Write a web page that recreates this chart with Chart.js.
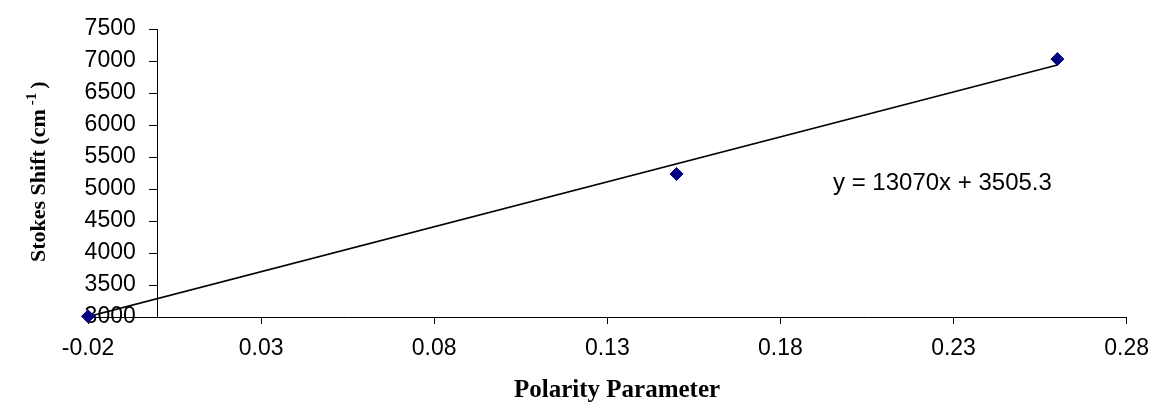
<!DOCTYPE html>
<html>
<head>
<meta charset="utf-8">
<script src="https://cdn.jsdelivr.net/npm/chart.js@4/dist/chart.umd.min.js"></script>
<style>
  html, body { margin: 0; padding: 0; background: #ffffff; }
  #vis { width: 1160px; height: 403px; position: relative; }
</style>
</head>
<body>
<div id="vis"><canvas id="myChart"></canvas></div>
<script>
// values
const polarity = [-0.02, 0.15, 0.26];
const stokesShift = [3010, 5235, 7030];
const trendX = [-0.02, 0.26];
const trendY = [3005, 6937];
const xTickValues = [-0.02, 0.03, 0.08, 0.13, 0.18, 0.23, 0.28];
const yMin = 3000;
const yMax = 7500;
const yStep = 500;
const equationText = 'y = 13070x + 3505.3';
const xTitle = 'Polarity Parameter';
const yTitle = 'Stokes Shift (cm';
const yTitleSup = '-1';

const SANS = '"Liberation Sans", Arial, sans-serif';
const SERIF = '"Liberation Serif", "Times New Roman", serif';

// titles and the trendline equation, drawn by hand (superscript)
const textPlugin = {
  id: 'textPlugin',
  afterDraw(chart) {
    const ctx = chart.ctx;
    ctx.save();
    ctx.fillStyle = '#000000';

    // equation
    ctx.font = '24px ' + SANS;
    ctx.textAlign = 'left';
    ctx.textBaseline = 'alphabetic';
    ctx.fillText(equationText, 833, 190);

    // x title
    ctx.font = 'bold 25px ' + SERIF;
    ctx.textAlign = 'center';
    ctx.fillText(xTitle, 617, 397);

    // y title, rotated
    ctx.translate(45, 262);
    ctx.rotate(-Math.PI / 2);
    ctx.textAlign = 'left';
    ctx.font = 'bold 22px ' + SERIF;
    ctx.fillText(yTitle, 0, 0);
    let w = ctx.measureText(yTitle).width + 4;
    ctx.font = 'bold 15px ' + SERIF;
    ctx.fillText(yTitleSup, w, -9);
    w += ctx.measureText(yTitleSup).width + 4;
    ctx.font = 'bold 22px ' + SERIF;
    ctx.fillText(')', w, 0);
    ctx.restore();
  },
};

const ctx = document.getElementById('myChart');

const chart = new Chart(ctx, {
  type: 'scatter',
  data: {
    datasets: [
      {
        label: 'Stokes shift',
        data: polarity.map((x, i) => ({ x: x, y: stokesShift[i] })),
        pointStyle: 'rectRot',
        pointRadius: 6.5,
        pointBackgroundColor: '#000080',
        pointBorderColor: '#000080',
        pointBorderWidth: 1,
        clip: false,
        order: 0,
      },
      {
        type: 'line',
        label: 'Linear',
        data: trendX.map((x, i) => ({ x: x, y: trendY[i] })),
        borderColor: '#000000',
        borderWidth: 1.6,
        pointRadius: 0,
        fill: false,
        order: 1,
      },
    ],
  },
  options: {
    responsive: true,
    maintainAspectRatio: false,
    animation: false,
    layout: {
      padding: { left: 88, right: 27, top: 29, bottom: 0 },
    },
    plugins: {
      legend: { display: false },
      title: { display: false },
      tooltip: { enabled: false },
    },
    scales: {
      x: {
        type: 'linear',
        position: 'bottom',
        min: -0.02,
        max: 0.28,
        afterBuildTicks: (scale) => {
          scale.ticks = xTickValues.map((v) => ({ value: v }));
        },
        afterFit: (scale) => {
          scale.height = 86;
        },
        grid: {
          drawOnChartArea: false,
          color: '#000000',
          tickLength: 7,
        },
        border: { color: '#000000', width: 1 },
        ticks: {
          color: '#000000',
          padding: 11,
          maxRotation: 0,
          autoSkip: false,
          font: { size: 23, family: SANS },
          callback: (v) => Number(v).toFixed(2),
        },
      },
      // labels only, anchored a little left of the crossing axis
      y: {
        type: 'linear',
        position: { x: -0.0062 },
        min: yMin,
        max: yMax,
        grid: { display: false },
        border: { display: false },
        ticks: {
          stepSize: yStep,
          color: '#000000',
          font: { size: 23, family: SANS },
          callback: (v) => String(v),
        },
      },
      // the value axis line, crossing at x = 0
      y0: {
        type: 'linear',
        position: { x: 0 },
        min: yMin,
        max: yMax,
        grid: {
          drawOnChartArea: false,
          color: '#000000',
          tickLength: 8,
        },
        border: { color: '#000000', width: 1 },
        ticks: {
          stepSize: yStep,
          display: false,
        },
      },
    },
  },
  plugins: [textPlugin],
});
</script>
</body>
</html>
